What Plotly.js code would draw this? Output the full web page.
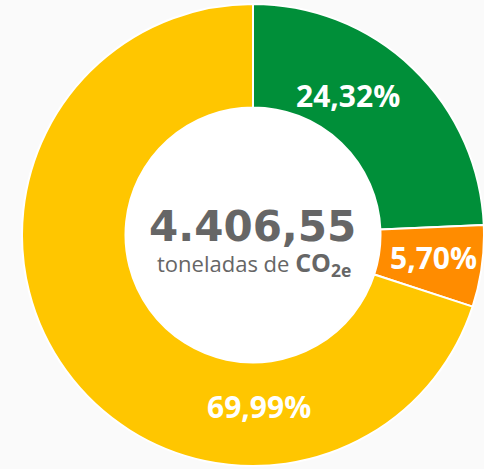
<!DOCTYPE html>
<html>
<head>
<meta charset="utf-8">
<script src="https://cdn.plot.ly/plotly-3.0.1.min.js"></script>
<style>
  html, body { margin: 0; padding: 0; background: #fafafa; overflow: hidden; }
  #chart { width: 484px; height: 469px; }
</style>
</head>
<body>
<div id="chart"></div>
<script>
// donut: share of emissions by category, total in the middle

const categories = ['Categoria 1', 'Categoria 2', 'Categoria 3'];
const shares = [24.32, 5.70, 69.99];
const sliceColors = ['#008f39', '#ff8c00', '#ffc600'];
const totalTonnes = 4406.55;
// where each percent label sits, in pixels of the page
const labelPx = [[348, 95], [433, 257], [259, 406]];

const W = 484, H = 469;
const margin = { l: 22, r: 0, t: 4, b: 3 };
const plotW = W - margin.l - margin.r;
const plotH = H - margin.t - margin.b;
const hole = 0.552;

function fmtBR(v) {
  // 4406.55 -> "4.406,55"
  const [int, dec] = v.toFixed(2).split('.');
  return int.replace(/\B(?=(\d{3})+(?!\d))/g, '.') + ',' + dec;
}

function toPaper(px, py) {
  return { x: (px - margin.l) / plotW, y: 1 - (py - margin.t) / plotH };
}

const pie = {
  type: 'pie',
  labels: categories,
  values: shares,
  sort: false,
  direction: 'clockwise',
  rotation: 0,
  hole: hole,
  textinfo: 'none',
  hoverinfo: 'skip',
  marker: { colors: sliceColors, line: { color: '#ffffff', width: 2 } },
  showlegend: false
};

const annotations = shares.map((v, i) => {
  const p = toPaper(labelPx[i][0], labelPx[i][1]);
  return {
    xref: 'paper', yref: 'paper', x: p.x, y: p.y,
    xanchor: 'center', yanchor: 'middle', showarrow: false,
    text: '<b>' + v.toFixed(2).replace('.', ',') + '%</b>',
    font: { family: 'Open Sans, sans-serif', size: 30, color: '#ffffff' }
  };
});

const cNum = toPaper(252, 226);
annotations.push({
  xref: 'paper', yref: 'paper', x: cNum.x, y: cNum.y,
  xanchor: 'center', yanchor: 'middle', showarrow: false,
  text: '<b>' + fmtBR(totalTonnes) + '</b>',
  font: { family: 'DejaVu Sans, sans-serif', size: 42, color: '#666666' }
});
const cSub = toPaper(254, 263);
annotations.push({
  xref: 'paper', yref: 'paper', x: cSub.x, y: cSub.y,
  xanchor: 'center', yanchor: 'middle', showarrow: false,
  text: 'toneladas de <span style="font-size:25px"><b>CO<sub>2e</sub></b></span>',
  font: { family: 'Open Sans, sans-serif', size: 22, color: '#666666' }
});

const layout = {
  width: W,
  height: H,
  margin: margin,
  paper_bgcolor: '#fafafa',
  plot_bgcolor: '#fafafa',
  showlegend: false,
  annotations: annotations,
  shapes: [{
    // white disc behind the hole
    type: 'circle', xref: 'paper', yref: 'paper', layer: 'below',
    x0: 0.5 - hole / 2, x1: 0.5 + hole / 2,
    y0: 0.5 - hole / 2, y1: 0.5 + hole / 2,
    fillcolor: '#ffffff', line: { width: 0 }
  }]
};

Plotly.newPlot('chart', [pie], layout, { displayModeBar: false, staticPlot: true });
</script>
</body>
</html>
